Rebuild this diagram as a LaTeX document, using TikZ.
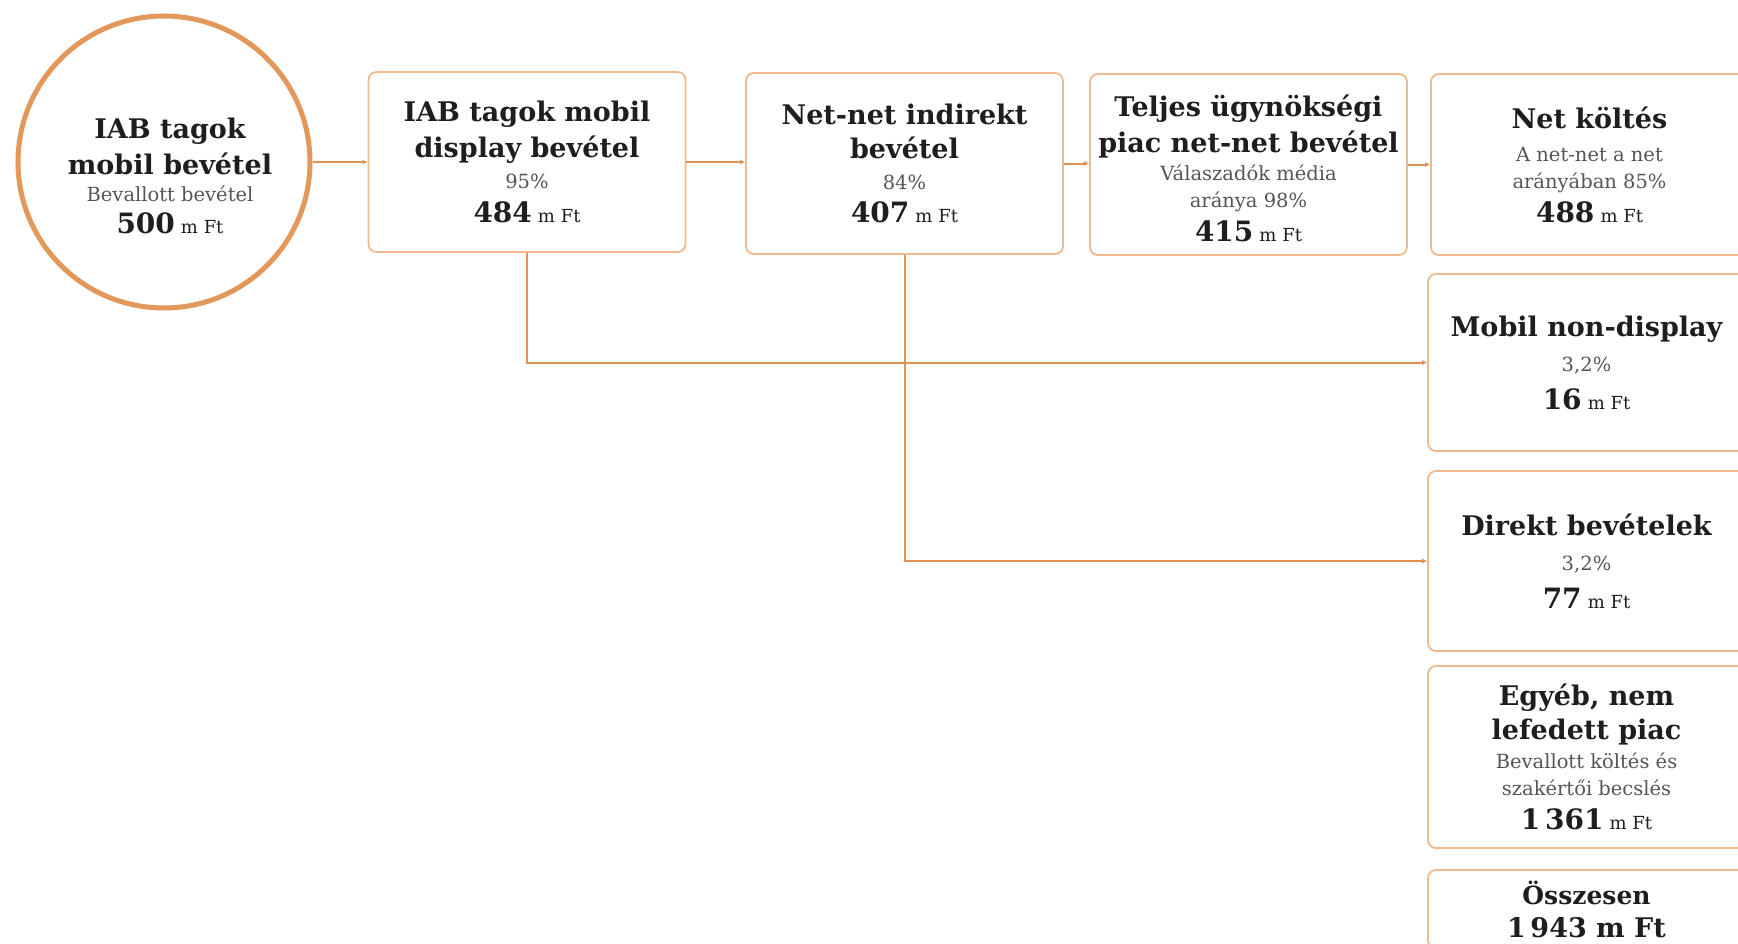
\documentclass[tikz,border=0pt]{standalone}
\usepackage{fontspec}
\setmainfont{DejaVu Serif}
\usetikzlibrary{arrows.meta}
\definecolor{bx}{RGB}{241,186,140}
\definecolor{ln}{RGB}{226,145,82}
\definecolor{cc}{RGB}{226,152,90}
\definecolor{tx}{RGB}{30,30,30}
\definecolor{gr}{RGB}{85,85,85}
\newcommand\hd[1]{{\fontsize{27}{28}\selectfont\bfseries\color{tx}#1}}
\newcommand\subt[1]{{\fontsize{19.5}{20}\selectfont\color{gr}#1}}
\newcommand\amt[1]{{\fontsize{28}{28}\selectfont\bfseries\color{tx}#1}~{\fontsize{18}{18}\selectfont\color{tx}m Ft}}
\begin{document}
\begin{tikzpicture}[x=1pt,y=-1pt,
  box/.style={draw=bx, line width=1.8pt, rounded corners=8pt, fill=white,
    minimum width=317pt, inner sep=0pt, align=center,
    font=\fontsize{19}{27}\selectfont, text=tx},
  conn/.style={draw=ln, line width=2pt, -{Latex[length=5pt,width=5pt]}}]
\fill[white] (0,0) rectangle (1738,943);
\useasboundingbox (0,0) rectangle (1738,943);

\node[circle, draw=cc, line width=5pt, minimum size=292pt, inner sep=0pt] (c) at (164,162) {};
\node[align=center, font=\fontsize{19}{27}\selectfont, text=tx] (ct) at (170,176)
  {\hd{IAB tagok}\\[7pt]\hd{mobil bevétel}\\\subt{Bevallott bevétel}\\[5pt]\amt{500}};

\node[box, minimum height=180pt] (b1) at (527,162)
  {\hd{IAB tagok mobil}\\[7pt]\hd{display bevétel}\\[4pt]\subt{95\%}\\[7pt]\amt{484}};
\node[box, minimum height=181pt] (b2) at (904.5,163.5)
  {\hd{Net-net indirekt}\\[7pt]\hd{bevétel}\\[4pt]\subt{84\%}\\[6pt]\amt{407}};
\node[box, minimum height=181pt] (b3) at (1248.5,164.5)
  {\rule{0pt}{29pt}\hd{Teljes ügynökségi}\\[7pt]\hd{piac net-net bevétel}\\[1pt]\subt{Válaszadók média}\\\subt{aránya 98\%}\\[7pt]\amt{415}};
\node[box, minimum height=181pt] (b4) at (1589.5,164.5)
  {\hd{Net költés}\\[6pt]\subt{A net-net a net}\\\subt{arányában 85\%}\\[7pt]\amt{488}};
\node[box, minimum height=177pt] (b5) at (1586.5,362.5)
  {\hd{Mobil non-display}\\[8pt]\subt{3,2\%}\\[11pt]\amt{16}};
\node[box, minimum height=180pt] (b6) at (1586.5,561)
  {\hd{Direkt bevételek}\\[8pt]\subt{3,2\%}\\[11pt]\amt{77}};
\node[box, minimum height=182pt] (b7) at (1586.5,757)
  {\hd{Egyéb, nem}\\[7pt]\hd{lefedett piac}\\[2pt]\subt{Bevallott költés és}\\\subt{szakértői becslés}\\[7pt]\amt{1\,361}};
\node[box, minimum height=78pt] (b8) at (1586.5,909)
  {{\fontsize{25}{28}\selectfont\bfseries Összesen}\\[6pt]\hd{1\,943 m Ft}};

\draw[conn] (c.east) -- (c.east -| b1.west);
\draw[conn] (b1.east) -- (b1.east -| b2.west);
\draw[conn] (b2.east) -- (b2.east -| b3.west);
\draw[conn] (b3.east) -- (b3.east -| b4.west);
\draw[conn] (b1.south) |- (b5.west);
\draw[conn] (b2.south) |- (b6.west);
\end{tikzpicture}
\end{document}
